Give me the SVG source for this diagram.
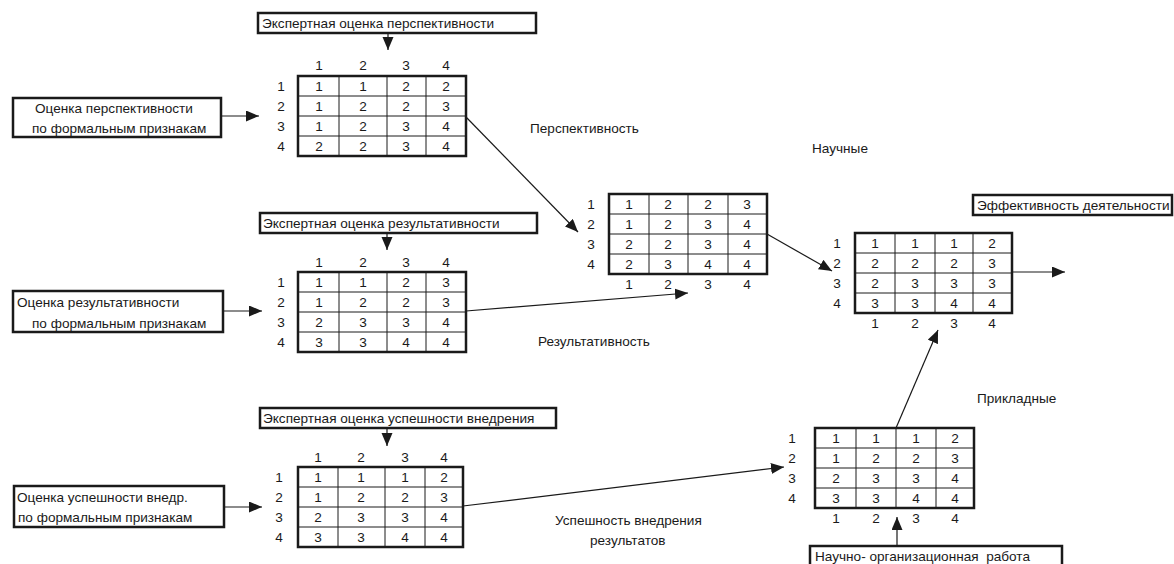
<svg xmlns="http://www.w3.org/2000/svg" width="1174" height="564" viewBox="0 0 1174 564">
<style>
text{font-family:"Liberation Sans",Arial,sans-serif;font-size:13.6px;fill:#1a1a1a}
.c{text-anchor:middle}
.box{fill:#fff;stroke:#1a1a1a;stroke-width:2.5}
.outer{fill:#fff;stroke:#1a1a1a;stroke-width:2.5}
.grid{stroke:#1a1a1a;stroke-width:1;fill:none}
.con{stroke:#1a1a1a;stroke-width:1.2;fill:none;marker-end:url(#ah)}
</style>
<defs>
<marker id="ah" markerUnits="userSpaceOnUse" markerWidth="14" markerHeight="12" refX="13" refY="5.5" orient="auto">
<path d="M0,0 L13,5.5 L0,11 z" fill="#1a1a1a"/>
</marker>
</defs>
<rect width="1174" height="564" fill="#fff"/>

<!-- input boxes -->
<g id="box-exp-persp"><rect class="box" x="258" y="13" width="278" height="20"/><text x="262" y="28">Экспертная оценка перспективности</text></g>
<g id="box-form-persp"><rect class="box" x="13" y="98" width="208" height="39"/><text x="35" y="113">Оценка перспективности</text><text x="32" y="133">по формальным признакам</text></g>
<g id="box-exp-res"><rect class="box" x="260" y="213" width="277" height="20"/><text x="263" y="228">Экспертная оценка результативности</text></g>
<g id="box-form-res"><rect class="box" x="13" y="291" width="210" height="41"/><text x="17" y="307">Оценка результативности</text><text x="32" y="328">по формальным признакам</text></g>
<g id="box-exp-impl"><rect class="box" x="260" y="408" width="296" height="20"/><text x="263" y="423">Экспертная оценка успешности внедрения</text></g>
<g id="box-form-impl"><rect class="box" x="14" y="486" width="210" height="41"/><text x="17" y="502">Оценка успешности внедр.</text><text x="18" y="522">по формальным признакам</text></g>
<g id="box-eff"><rect class="box" x="973" y="195" width="199" height="20"/><text x="977" y="210">Эффективность деятельности</text></g>
<g id="box-org"><rect class="box" x="810" y="546" width="252" height="24"/><text x="815" y="561" xml:space="preserve">Научно- организационная  работа</text></g>

<!-- matrix: perspective -->
<g id="m-persp">
<rect class="outer" x="298" y="76" width="168" height="80"/>
<path class="grid" d="M339,76V156M387,76V156M426,76V156M298,96H466M298,116H466M298,136H466"/>
<text class="c" x="319" y="70">1</text><text class="c" x="363" y="70">2</text><text class="c" x="406" y="70">3</text><text class="c" x="446" y="70">4</text>
<text class="c" x="281" y="91">1</text><text class="c" x="281" y="111">2</text><text class="c" x="281" y="131">3</text><text class="c" x="281" y="151">4</text>
<text class="c" x="319" y="91">1</text><text class="c" x="363" y="91">1</text><text class="c" x="406" y="91">2</text><text class="c" x="446" y="91">2</text>
<text class="c" x="319" y="111">1</text><text class="c" x="363" y="111">2</text><text class="c" x="406" y="111">2</text><text class="c" x="446" y="111">3</text>
<text class="c" x="319" y="131">1</text><text class="c" x="363" y="131">2</text><text class="c" x="406" y="131">3</text><text class="c" x="446" y="131">4</text>
<text class="c" x="319" y="151">2</text><text class="c" x="363" y="151">2</text><text class="c" x="406" y="151">3</text><text class="c" x="446" y="151">4</text>
</g>

<!-- matrix: result -->
<g id="m-res">
<rect class="outer" x="298" y="272" width="168" height="80"/>
<path class="grid" d="M339,272V352M387,272V352M426,272V352M298,292H466M298,312H466M298,332H466"/>
<text class="c" x="319" y="267">1</text><text class="c" x="363" y="267">2</text><text class="c" x="406" y="267">3</text><text class="c" x="446" y="267">4</text>
<text class="c" x="281" y="287">1</text><text class="c" x="281" y="307">2</text><text class="c" x="281" y="327">3</text><text class="c" x="281" y="347">4</text>
<text class="c" x="319" y="287">1</text><text class="c" x="363" y="287">1</text><text class="c" x="406" y="287">2</text><text class="c" x="446" y="287">3</text>
<text class="c" x="319" y="307">1</text><text class="c" x="363" y="307">2</text><text class="c" x="406" y="307">2</text><text class="c" x="446" y="307">3</text>
<text class="c" x="319" y="327">2</text><text class="c" x="363" y="327">3</text><text class="c" x="406" y="327">3</text><text class="c" x="446" y="327">4</text>
<text class="c" x="319" y="347">3</text><text class="c" x="363" y="347">3</text><text class="c" x="406" y="347">4</text><text class="c" x="446" y="347">4</text>
</g>

<!-- matrix: implementation -->
<g id="m-impl">
<rect class="outer" x="298" y="467" width="165" height="80"/>
<path class="grid" d="M338,467V547M385,467V547M425,467V547M298,487H463M298,507H463M298,527H463"/>
<text class="c" x="318" y="462">1</text><text class="c" x="361" y="462">2</text><text class="c" x="405" y="462">3</text><text class="c" x="444" y="462">4</text>
<text class="c" x="279" y="482">1</text><text class="c" x="279" y="502">2</text><text class="c" x="279" y="522">3</text><text class="c" x="279" y="542">4</text>
<text class="c" x="318" y="482">1</text><text class="c" x="361" y="482">1</text><text class="c" x="405" y="482">1</text><text class="c" x="444" y="482">2</text>
<text class="c" x="318" y="502">1</text><text class="c" x="361" y="502">2</text><text class="c" x="405" y="502">2</text><text class="c" x="444" y="502">3</text>
<text class="c" x="318" y="522">2</text><text class="c" x="361" y="522">3</text><text class="c" x="405" y="522">3</text><text class="c" x="444" y="522">4</text>
<text class="c" x="318" y="542">3</text><text class="c" x="361" y="542">3</text><text class="c" x="405" y="542">4</text><text class="c" x="444" y="542">4</text>
</g>

<!-- matrix: scientific -->
<g id="m-sci">
<rect class="outer" x="609" y="194" width="158" height="80"/>
<path class="grid" d="M649,194V274M688,194V274M728,194V274M609,214H767M609,234H767M609,254H767"/>
<text class="c" x="591" y="209">1</text><text class="c" x="591" y="229">2</text><text class="c" x="591" y="249">3</text><text class="c" x="591" y="269">4</text>
<text class="c" x="629" y="209">1</text><text class="c" x="668" y="209">2</text><text class="c" x="708" y="209">2</text><text class="c" x="747" y="209">3</text>
<text class="c" x="629" y="229">1</text><text class="c" x="668" y="229">2</text><text class="c" x="708" y="229">3</text><text class="c" x="747" y="229">4</text>
<text class="c" x="629" y="249">2</text><text class="c" x="668" y="249">2</text><text class="c" x="708" y="249">3</text><text class="c" x="747" y="249">4</text>
<text class="c" x="629" y="269">2</text><text class="c" x="668" y="269">3</text><text class="c" x="708" y="269">4</text><text class="c" x="747" y="269">4</text>
<text class="c" x="629" y="289">1</text><text class="c" x="668" y="289">2</text><text class="c" x="708" y="289">3</text><text class="c" x="747" y="289">4</text>
</g>

<!-- matrix: effectiveness -->
<g id="m-eff">
<rect class="outer" x="855" y="233" width="157" height="80"/>
<path class="grid" d="M895,233V313M935,233V313M973,233V313M855,253H1012M855,273H1012M855,293H1012"/>
<text class="c" x="837" y="248">1</text><text class="c" x="837" y="268">2</text><text class="c" x="837" y="288">3</text><text class="c" x="837" y="308">4</text>
<text class="c" x="875" y="248">1</text><text class="c" x="915" y="248">1</text><text class="c" x="954" y="248">1</text><text class="c" x="992" y="248">2</text>
<text class="c" x="875" y="268">2</text><text class="c" x="915" y="268">2</text><text class="c" x="954" y="268">2</text><text class="c" x="992" y="268">3</text>
<text class="c" x="875" y="288">2</text><text class="c" x="915" y="288">3</text><text class="c" x="954" y="288">3</text><text class="c" x="992" y="288">3</text>
<text class="c" x="875" y="308">3</text><text class="c" x="915" y="308">3</text><text class="c" x="954" y="308">4</text><text class="c" x="992" y="308">4</text>
<text class="c" x="875" y="328">1</text><text class="c" x="915" y="328">2</text><text class="c" x="954" y="328">3</text><text class="c" x="992" y="328">4</text>
</g>

<!-- matrix: applied -->
<g id="m-appl">
<rect class="outer" x="815" y="428" width="159" height="80"/>
<path class="grid" d="M856,428V508M896,428V508M936,428V508M815,448H974M815,468H974M815,488H974"/>
<text class="c" x="792" y="443">1</text><text class="c" x="792" y="463">2</text><text class="c" x="792" y="483">3</text><text class="c" x="792" y="503">4</text>
<text class="c" x="836" y="443">1</text><text class="c" x="876" y="443">1</text><text class="c" x="916" y="443">1</text><text class="c" x="955" y="443">2</text>
<text class="c" x="836" y="463">1</text><text class="c" x="876" y="463">2</text><text class="c" x="916" y="463">2</text><text class="c" x="955" y="463">3</text>
<text class="c" x="836" y="483">2</text><text class="c" x="876" y="483">3</text><text class="c" x="916" y="483">3</text><text class="c" x="955" y="483">4</text>
<text class="c" x="836" y="503">3</text><text class="c" x="876" y="503">3</text><text class="c" x="916" y="503">4</text><text class="c" x="955" y="503">4</text>
<text class="c" x="836" y="523">1</text><text class="c" x="876" y="523">2</text><text class="c" x="916" y="523">3</text><text class="c" x="955" y="523">4</text>
</g>

<!-- free labels -->
<g id="labels">
<text x="530" y="133">Перспективность</text>
<text x="812" y="153">Научные</text>
<text x="538" y="346">Результативность</text>
<text x="977" y="403">Прикладные</text>
<text x="555" y="525">Успешность внедрения</text>
<text x="590" y="545">результатов</text>
</g>

<!-- connectors -->
<g id="connectors">
<line class="con" x1="388" y1="33" x2="388" y2="50"/>
<line class="con" x1="221" y1="116" x2="259" y2="116"/>
<line class="con" x1="387" y1="233" x2="387" y2="250"/>
<line class="con" x1="223" y1="311" x2="262" y2="311"/>
<line class="con" x1="387" y1="428" x2="387" y2="446"/>
<line class="con" x1="224" y1="507" x2="262" y2="507"/>
<line class="con" x1="466" y1="117" x2="578" y2="232"/>
<line class="con" x1="466" y1="311" x2="688" y2="293"/>
<line class="con" x1="463" y1="506" x2="784" y2="467"/>
<line class="con" x1="767" y1="234" x2="832" y2="271"/>
<line class="con" x1="1012" y1="272" x2="1065" y2="272"/>
<line class="con" x1="896" y1="428" x2="938" y2="330"/>
<line class="con" x1="897" y1="546" x2="897" y2="517"/>
</g>
</svg>
